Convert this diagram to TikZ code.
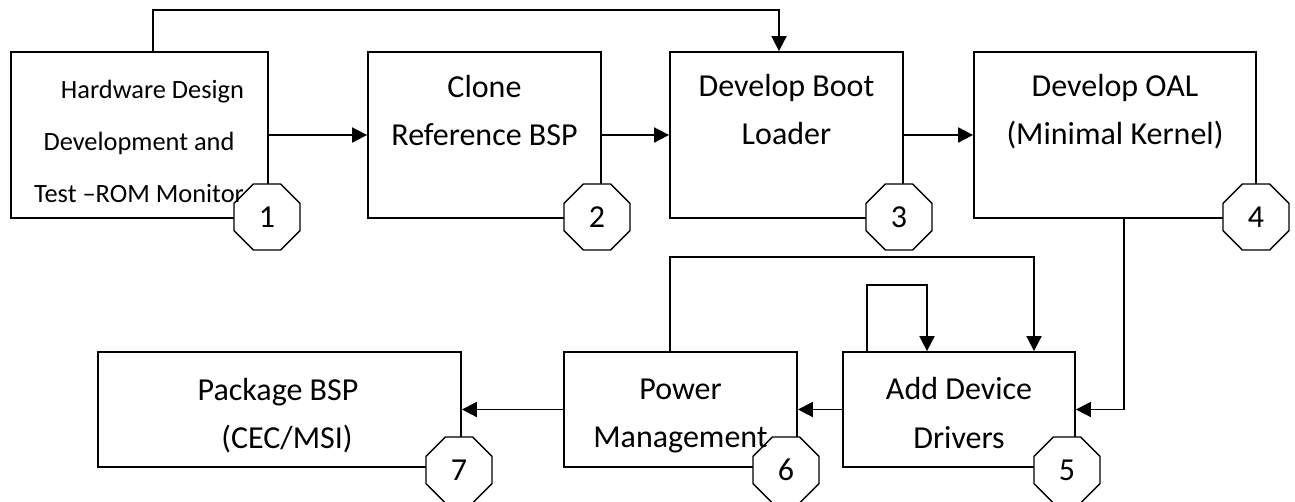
\documentclass[tikz,border=0pt]{standalone}
\usepackage{fontspec}
\setmainfont{Carlito}
\usetikzlibrary{arrows.meta,positioning,shapes.geometric}

\begin{document}
\begin{tikzpicture}[x=1pt,y=-1pt,line width=1.8pt,
  box/.style={draw,rectangle,inner sep=0pt,minimum height=166pt},
  lowbox/.style={box,minimum height=115pt},
  boxtext/.style={align=center,inner sep=0pt,font=\fontsize{32}{48}\selectfont},
  stepno/.style={draw,fill=white,line width=1.4pt,regular polygon,regular polygon sides=8,
    minimum size=71.5pt,inner sep=0pt,font=\fontsize{32}{32}\selectfont},
  flow/.style={-{Triangle[length=15pt,width=15pt]}}]
  \useasboundingbox (0,0) rectangle (1295,501);

  % top row
  \node[box,minimum width=257pt] (hw) at (139.5,135) {};
  \node[box,minimum width=233pt] (clone) at (484.5,135) {};
  \node[box,minimum width=233pt] (boot) at (786.5,135) {};
  \node[box,minimum width=282pt] (oal) at (1115,135) {};
  % bottom row
  \node[lowbox,minimum width=232pt] (drv) at (959,409.5) {};
  \node[lowbox,minimum width=233pt] (pwr) at (680.5,409.5) {};
  \node[lowbox,minimum width=363pt] (pkg) at (279.5,409.5) {};

  \coordinate (over) at (0,10);

  % flow between the steps
  \draw[flow] (hw.east) -- (clone.west);
  \draw[flow] (clone.east) -- (boot.west);
  \draw[flow] (boot.east) -- (oal.west);
  \draw[flow] ([xshift=13.5pt]hw.north) -- ([xshift=13.5pt]hw.north |- over) -| ([xshift=-7.5pt]boot.north);
  \draw[flow] ([xshift=9pt]oal.south) |- (drv.east);
  \draw[flow] (drv.west) -- (pwr.east);
  \draw[flow] (pwr.west) -- (pkg.east);
  \draw[flow] ([xshift=-92pt]drv.north) -- ++(0,-66) -| ([xshift=-32pt]drv.north);
  \draw[flow] ([xshift=-10.5pt]pwr.north) -- ++(0,-94) -| ([xshift=75pt]drv.north);

  % step numbers
  \node[stepno] (n1) at (267,217) {1};
  \node[stepno] (n2) at (597,217) {2};
  \node[stepno] (n3) at (899,217) {3};
  \node[stepno] (n4) at (1256,217) {4};
  \node[stepno] (n5) at (1067,470) {5};
  \node[stepno] (n6) at (786,470) {6};
  \node[stepno] (n7) at (459,470) {7};

  % labels
  \node[boxtext,font=\fontsize{26.4}{52}\selectfont] (hwtext) at (139,141) {\hspace*{27pt}Hardware Design\\Development and\\Test –ROM Monitor};
  \node[boxtext] (clonetext) at (484.5,110) {Clone\\Reference BSP};
  \node[boxtext] (boottext) at (786.5,110) {Develop Boot\\Loader};
  \node[boxtext] (oaltext) at (1115,112) {Develop OAL\\(Minimal Kernel)};
  \node[boxtext] (drvtext) at (959,413) {Add Device\\Drivers};
  \node[boxtext] (pwrtext) at (680.5,416) {Power\\Management};
  \node[boxtext] (pkgtext) at (278,416) {Package BSP\\\hspace*{18pt}(CEC/MSI)};
\end{tikzpicture}
\end{document}
